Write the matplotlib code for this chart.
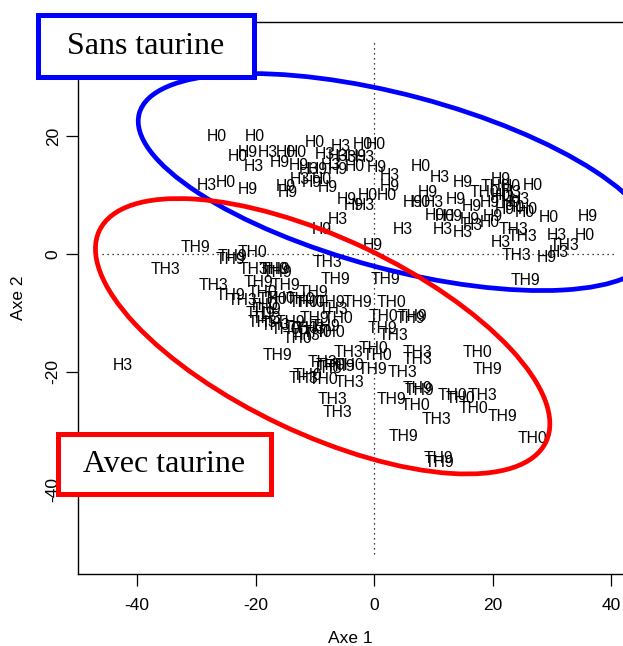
import matplotlib
matplotlib.use("Agg")
import matplotlib.pyplot as plt
from matplotlib.patches import Ellipse, Rectangle

plt.rcParams["axes.unicode_minus"] = False

# ---------------- data ----------------
h_labels = ["H0","H0","H0","H3","H0","H0","H9","H0","H3","H0","H0","H3","H3","H3","H9","H3","H9","H3",
            "H9","H9","H3","H9","H3","H0","H9","H3","H9","H3","H0","H9","H9","H9","H3","H9","H0","H9",
            "H9","H9","H3","H0","H0","H3","H9","H3","H9","H0","H3","H9","H9","H0","H0","H9","H9","H0",
            "H3","H9","H0","H9","H9","H3","H0","H9","H9","H0","H0","H9","H3","H3","H3","H3","H0","H3",
            "H9","H3","H0","H3","H9","H0","H3","H0","H9","H3","H9","H0",
            "TH0","TH0","TH3","TH3","TH3","TH3"]
h_x = [-26.5,-20.1,-10.0,-5.7,-1.9,0.2,-21.3,-23.1,-17.9,-15.0,-13.0,-8.3,-6.2,-4.6,-2.9,-1.5,0.5,-20.4,
       -15.9,-12.8,-11.1,-9.6,-7.4,-3.2,-6.1,2.7,2.7,-28.2,-25.1,-21.3,-15.0,-14.5,-12.5,-10.5,-8.8,-7.9,
       -4.6,-3.5,-1.5,-1.0,2.2,-6.1,-8.8,4.9,-0.3,7.8,11.1,14.9,21.3,23.0,26.8,9.1,6.6,7.8,
       10.0,13.7,10.3,13.3,16.2,16.7,19.6,16.5,20.1,25.5,29.4,36.1,11.5,14.9,21.3,30.9,35.6,31.1,
       29.2,-42.5,21.3,22.1,23.0,23.8,24.6,26.0,22.1,23.3,19.6,12.0,
       18.7,20.4,23.5,25.1,24.1,32.2]
h_y = [19.9,19.9,19.0,18.2,18.5,18.5,17.3,16.5,17.2,17.3,17.2,16.8,16.5,16.3,16.5,16.3,14.6,14.8,
       15.6,15.1,14.3,14.3,15.1,14.8,14.3,13.4,11.4,11.7,12.2,10.9,11.4,10.4,12.6,12.2,12.6,11.2,
       9.2,8.3,8.3,10.0,10.0,5.8,4.2,4.1,1.4,14.8,12.9,12.2,12.6,11.4,11.7,10.4,8.7,8.7,
       8.7,9.2,6.6,6.3,5.8,4.9,5.3,8.0,6.3,7.0,6.1,6.3,4.1,3.6,2.0,3.2,3.2,0.2,
       -0.7,-18.9,10.0,9.5,8.7,7.8,9.2,7.5,7.5,10.4,8.7,6.3,
       10.5,11.4,4.1,2.9,-0.2,1.5]

th_labels = ["TH9","TH3","TH9","TH9","TH0","TH3","TH0","TH9","TH9","TH3","TH9","TH9","TH9","TH3","TH0",
             "TH0","TH9","TH3","TH3","TH0","TH3","TH9","TH9","TH9","TH0","TH0","TH9","TH9","TH0","TH3",
             "TH0","TH0","TH9","TH9","TH9","TH3","TH9","TH0","TH0","TH3","TH0","TH9","TH0","TH9","TH0",
             "TH9","TH3","TH0","TH0","TH3","TH3","TH0","TH9","TH3","TH0","TH9","TH0","TH3","TH9","TH3",
             "TH0","TH3","TH0","TH3","TH9","TH9","TH0","TH0","TH3","TH0","TH9","TH3","TH3","TH9","TH0",
             "TH3","TH9","TH0","TH9","TH9","TH9","TH0","TH9","TH3","TH0","TH3"]
th_x = [-30.2,-35.3,-24.3,-24.0,-20.6,-20.4,-17.0,-16.4,-16.7,-27.2,-19.6,-15.0,-24.3,-22.3,-18.9,
        -15.9,-18.1,-18.1,-16.7,-18.7,-7.9,-10.3,-6.6,1.9,-12.0,-10.8,-7.4,-2.9,3.0,-6.9,
        -6.1,1.5,6.1,6.4,1.4,3.2,-10.0,-13.0,-12.0,-10.8,-9.5,-8.3,-7.4,-14.2,-15.0,
        -16.4,-4.4,-0.2,0.5,7.3,7.3,17.4,19.1,-8.8,-7.4,-5.7,-4.1,-7.8,-0.3,4.7,
        -11.3,-12.0,-8.6,-4.1,7.3,7.6,13.3,14.5,18.2,16.7,21.6,-7.1,-6.2,3.0,6.9,
        10.6,4.9,26.8,10.8,11.1,25.5,-17.2,-19.2,-18.9,-12.5,-11.6]
th_y = [1.0,-2.7,-1.0,-0.5,0.2,-2.7,-2.7,-3.2,-2.7,-5.3,-4.9,-5.3,-7.0,-8.0,-6.5,
        -7.5,-9.5,-10.9,-12.2,-8.7,-1.4,-6.5,-4.4,-4.4,-8.2,-8.3,-8.3,-8.3,-8.2,-9.5,
        -10.9,-10.7,-10.9,-10.7,-12.6,-13.8,-10.9,-14.3,-12.6,-12.9,-13.3,-12.4,-13.4,-11.7,-12.9,
        -17.2,-16.8,-16.0,-17.2,-16.7,-18.0,-16.7,-19.7,-18.4,-18.9,-19.2,-19.0,-19.4,-19.7,-20.1,
        -20.6,-21.1,-21.4,-21.8,-22.8,-23.3,-24.0,-24.6,-24.0,-26.2,-27.7,-24.8,-27.0,-24.8,-25.7,
        -28.2,-31.1,-31.3,-34.7,-35.5,-4.6,-7.8,-10.2,-11.6,-7.8,-13.9]

x_ticks = [-40, -20, 0, 20, 40]
y_ticks = [-40, -20, 0, 20]
x_label = "Axe 1"
y_label = "Axe 2"
group_names = ["Sans taurine", "Avec taurine"]

# ellipse parameters (data units): centre x, centre y, width, height, angle
blue_ell = (3.8, 12.2, 90.0, 29.6, -15)
red_ell = (-8.7, -14.0, 83.5, 33.2, -25.5)

# ---------------- figure ----------------
W, H = 623, 646
fig = plt.figure(figsize=(W / 100, H / 100), dpi=100)
ax = fig.add_axes([78 / W, (H - 574) / H, (W - 78) / W, (574 - 22) / H])
ax.set_xlim(-50, 42)
ax.set_ylim(-54.4, 39.4)

lab_font = dict(family=["Liberation Sans", "DejaVu Sans"], fontsize=11.3)
for l, x, y in zip(h_labels, h_x, h_y):
    ax.text(x, y, l, ha="center", va="center", **lab_font)
for l, x, y in zip(th_labels, th_x, th_y):
    ax.text(x, y, l, ha="center", va="center", **lab_font)

ax.plot([-46, 40.5], [0, 0], color="black", lw=0.9, linestyle=(0, (1, 3)))
ax.plot([0, 0], [-51, 36], color="black", lw=0.9, linestyle=(0, (1, 3)))

for (cx, cy, w, h, a), col in [(blue_ell, "#0000FF"), (red_ell, "#FF0000")]:
    ax.add_patch(Ellipse((cx, cy), w, h, angle=a, fill=False, ec=col, lw=3.4, zorder=5))

ax.spines["right"].set_visible(False)
for s in ["left", "bottom", "top"]:
    ax.spines[s].set_linewidth(1.0)

ax.set_xticks(x_ticks)
ax.set_yticks(y_ticks)
ax.tick_params(direction="out", length=8.5, width=0.9, labelsize=12.5)
ax.tick_params(axis="x", pad=9)
ax.tick_params(axis="y", pad=4)
for t in ax.get_xticklabels() + ax.get_yticklabels():
    t.set_family(["Liberation Sans", "DejaVu Sans"])
for t in ax.get_yticklabels():
    t.set_rotation(90)
    t.set_va("center")
ax.set_xlabel(x_label, fontsize=12.5, family=["Liberation Sans"], labelpad=13)
ax.set_ylabel(y_label, fontsize=12.5, family=["Liberation Sans"], labelpad=14)

# group boxes
def box(x0, y0, x1, y1, col, txt):
    fig.add_artist(Rectangle((x0 / W, 1 - y1 / H), (x1 - x0) / W, (y1 - y0) / H,
                             transform=fig.transFigure, fc="white", ec=col, lw=3.6, zorder=10))
    fig.text((x0 + x1) / 2 / W, 1 - (y0 + y1) / 2 / H, txt, ha="center", va="center",
             fontsize=23, family=["Liberation Serif", "DejaVu Serif"], zorder=11)

box(38, 15, 254, 77, "#0000FF", group_names[0])
box(58, 434, 271, 494, "#FF0000", group_names[1])

fig.savefig("out.png", dpi=100)
